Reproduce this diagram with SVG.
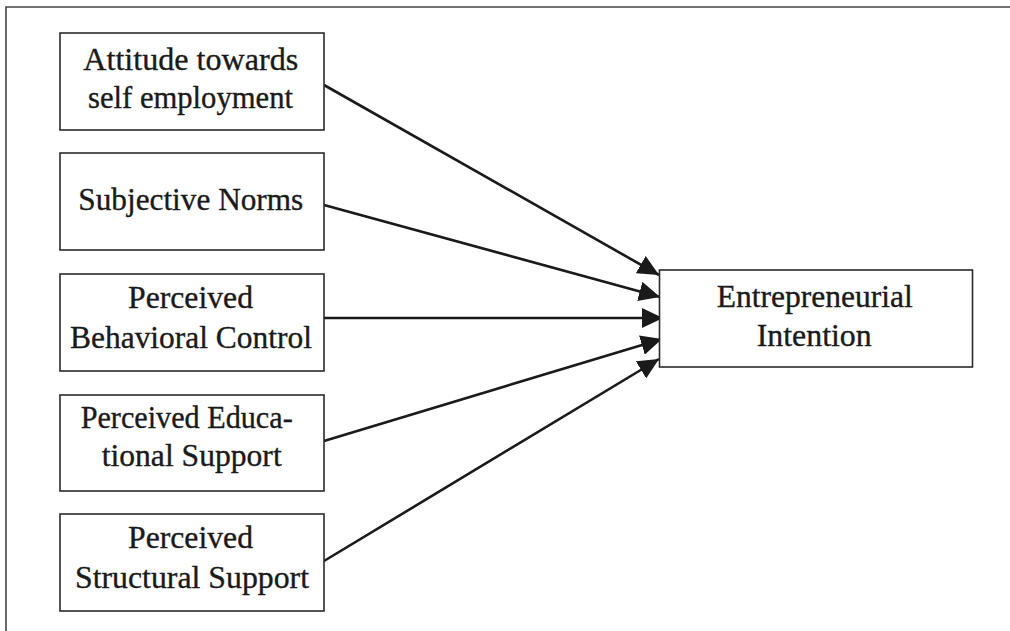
<svg xmlns="http://www.w3.org/2000/svg" width="1010" height="631" viewBox="0 0 1010 631">
<style>
.box{fill:#fff;stroke:#2a2a2a;stroke-width:1.6}
.t{font-family:'Liberation Serif','Times New Roman',Tinos,Times,serif;font-size:31px;fill:#1a1a1a;stroke:#1a1a1a;stroke-width:0.35}
.c{stroke:#1a1a1a;stroke-width:2.6;fill:none;marker-end:url(#ah)}
.frame{stroke:#444;stroke-width:1.6;fill:none}
</style>
<defs>
<marker id="ah" markerUnits="userSpaceOnUse" markerWidth="22" markerHeight="20" refX="21" refY="10" orient="auto" viewBox="0 0 22 20">
<path d="M0,0 L21,10 L0,20 z" fill="#1a1a1a"/>
</marker>
</defs>
<rect width="1010" height="631" fill="#fff"/>
<path class="frame" d="M6,631 L6,7 L1010,7"/>
<g id="connectors">
<line class="c" x1="324" y1="85" x2="659" y2="275"/>
<line class="c" x1="324" y1="205" x2="660" y2="297"/>
<line class="c" x1="324" y1="318" x2="663" y2="318"/>
<line class="c" x1="324" y1="441" x2="662" y2="339"/>
<line class="c" x1="324" y1="561" x2="659" y2="359"/>
</g>
<g id="n1"><rect class="box" x="60" y="33" width="264" height="97"/>
<text class="t" x="83.3" y="70" textLength="215" lengthAdjust="spacingAndGlyphs">Attitude towards</text>
<text class="t" x="88" y="108" textLength="205" lengthAdjust="spacingAndGlyphs">self employment</text></g>
<g id="n2"><rect class="box" x="60" y="153" width="264" height="97"/>
<text class="t" x="78.3" y="210" textLength="225" lengthAdjust="spacingAndGlyphs">Subjective Norms</text></g>
<g id="n3"><rect class="box" x="60" y="274" width="264" height="97"/>
<text class="t" x="128" y="308" textLength="125" lengthAdjust="spacingAndGlyphs">Perceived</text>
<text class="t" x="70" y="348" textLength="242" lengthAdjust="spacingAndGlyphs">Behavioral Control</text></g>
<g id="n4"><rect class="box" x="60" y="395" width="264" height="96"/>
<text class="t" x="80.7" y="428" textLength="212" lengthAdjust="spacingAndGlyphs">Perceived Educa-</text>
<text class="t" x="101.7" y="466" textLength="180" lengthAdjust="spacingAndGlyphs">tional Support</text></g>
<g id="n5"><rect class="box" x="60" y="514" width="264" height="97"/>
<text class="t" x="128" y="548" textLength="125" lengthAdjust="spacingAndGlyphs">Perceived</text>
<text class="t" x="75" y="588" textLength="234" lengthAdjust="spacingAndGlyphs">Structural  Support</text></g>
<g id="n6"><rect class="box" x="659.5" y="270" width="313" height="97"/>
<text class="t" x="716.7" y="307" textLength="196" lengthAdjust="spacingAndGlyphs">Entrepreneurial</text>
<text class="t" x="756.7" y="346" textLength="115" lengthAdjust="spacingAndGlyphs">Intention</text></g>
</svg>
